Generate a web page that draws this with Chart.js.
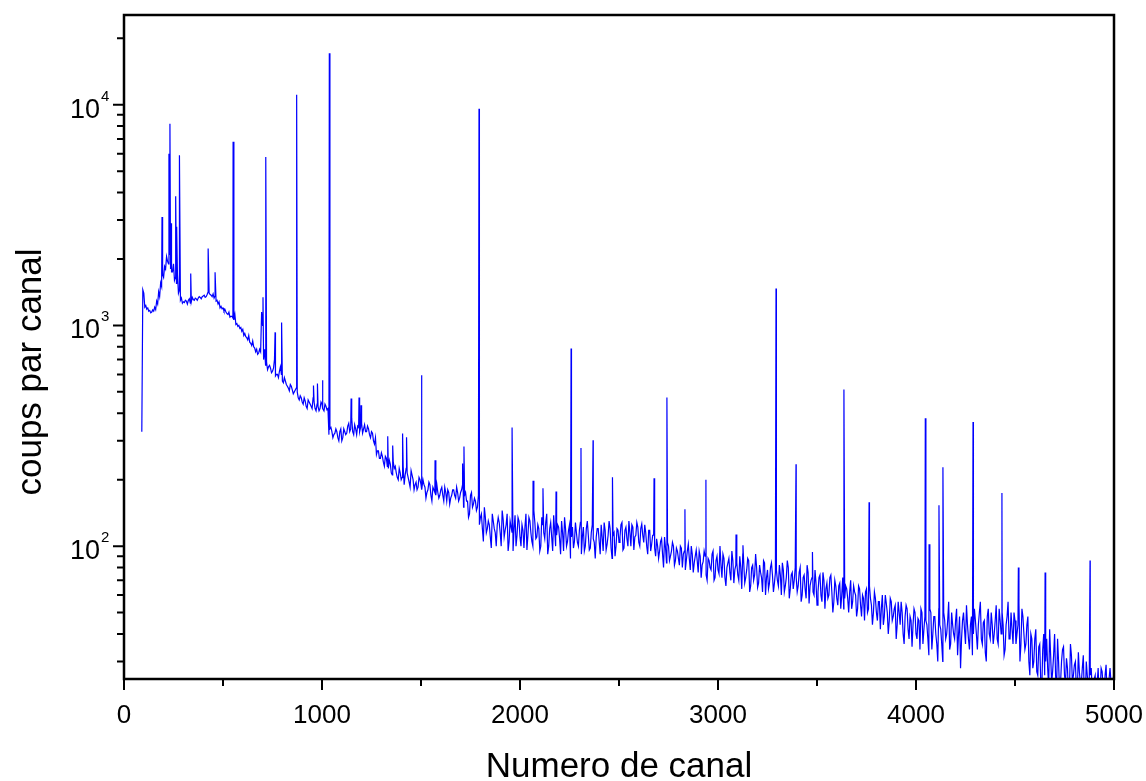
<!DOCTYPE html>
<html>
<head>
<meta charset="utf-8">
<script src="https://cdn.jsdelivr.net/npm/chart.js@4/dist/chart.umd.min.js"></script>
<style>
html,body{margin:0;padding:0;background:#fff;}
#wrap{width:1146px;height:781px;position:relative;}
</style>
</head>
<body>
<div id="wrap"><canvas id="c" width="1146" height="781"></canvas></div>
<script>
// ---- data ----
const baseStart = 90;   // continuum samples at channels 90,100,110,...
const baseStep = 10;
const baselineCounts = [
  330,
  1400,1230,1200,1170,1150,1160,1180,1250,1350,1500,
  1650,1800,1950,2100,1750,1900,1650,1700,1450,1330,
  1280,1300,1250,1320,1280,1310,1330,1300,1350,1320,
  1360,1340,1380,1400,1370,1390,1360,1300,1280,1220,
  1200,1180,1130,1150,1100,1080,1120,1020,1000,980,
  960,920,880,900,830,850,790,780,750,760,
  1000,780,680,650,640,620,700,600,580,650,
  560,580,540,520,540,510,500,520,470,480,
  450,470,430,460,440,420,450,410,430,420,
  440,410,430,420,340,330,320,340,310,330,
  300,340,320,350,330,380,320,340,350,330,
  360,340,330,350,320,330,300,310,270,250,
  265,240,255,230,245,215,240,230,205,225,
  200,230,210,215,195,220,200,190,180,205,
  190,200,185,175,195,170,185,175,190,165,
  180,170,185,160,175,165,180,170,185,160,
  175,190,170,160,135,170,150,165,145,170,
  135,120,150,115,130,110,140,120,100,135,
  115,145,110,125,95,130,115,120,100,135,
  110,125,98,140,112,130,105,145,108,125,
  95,135,115,128,92,120,110,138,100,125,
  108,130,95,120,105,125,110,98,128,104,
  118,92,122,100,130,96,115,108,88,120,
  105,125,95,118,102,130,98,112,90,120,
  104,125,96,118,108,130,100,122,110,128,
  104,120,112,125,100,118,95,112,98,108,
  88,105,92,110,84,100,90,104,82,98,
  88,100,80,95,86,102,78,92,84,96,
  76,90,82,95,74,88,80,92,70,86,
  78,100,72,88,66,84,76,95,68,82,
  74,90,64,84,72,88,62,80,70,92,
  65,82,72,86,60,78,68,84,62,76,
  70,82,60,78,66,86,58,74,64,80,
  62,76,56,72,64,82,55,70,62,78,
  54,72,60,76,52,68,60,74,50,70,
  58,66,52,72,58,64,50,70,56,62,
  48,66,54,60,46,64,52,58,44,62,
  50,56,42,60,48,55,40,58,46,52,
  38,56,44,50,36,54,42,48,35,52,
  40,47,34,50,42,46,38,52,34,48,
  40,30,44,36,50,38,46,34,50,40,
  46,32,48,38,50,36,44,34,48,40,
  46,34,50,38,45,33,48,40,50,36,
  46,38,52,40,44,34,48,38,50,36,
  46,40,55,36,48,34,44,30,40,28,
  38,27,35,24,34,26,38,23,32,27,
  40,22,30,24,34,26,31,21,36,24,
  29,22,33,24,28,21,30,23,26,22,
  25,20,28,22,27,21,29,23,28,22,
  27
];
const midStart = 95;    // in-between samples at channels 95,105,115,...
const midStep = 10;
const midCounts = [
  1450,1210,1185,1160,1140,1175,1210,1290,1420,1560,
  1700,1850,2050,1900,1800,1750,1600,1550,1400,1300,
  1260,1270,1290,1300,1260,1340,1300,1320,1330,1340,
  1350,1370,1350,1420,1380,1350,1330,1290,1250,1200,
  1190,1160,1150,1120,1090,1100,1060,1010,990,970,
  940,900,890,860,840,810,800,760,740,780,
  1150,700,660,630,660,610,640,590,600,620,
  600,550,560,530,505,530,490,510,500,460,
  470,440,455,420,450,430,470,420,440,410,
  450,420,440,415,320,345,310,325,330,300,
  340,310,330,325,360,340,330,355,320,345,
  345,325,355,330,340,310,325,290,260,270,
  250,255,230,250,225,235,210,225,215,200,
  215,205,190,225,205,185,210,180,195,185,
  200,180,190,165,180,190,160,180,170,175,
  170,185,160,175,180,155,170,180,165,175,
  165,180,150,175,160,140,175,155,160,150,
  125,140,105,135,120,125,98,130,115,125,
  128,100,132,118,140,105,122,95,138,112,
  130,100,118,122,96,135,115,100,128,110,
  120,100,125,108,140,100,128,95,118,112,
  122,92,115,135,100,118,88,122,105,115,
  100,128,110,95,120,112,98,125,104,110,
  120,92,110,128,96,112,120,88,115,100,
  118,110,128,98,122,100,115,125,96,112,
  122,100,126,104,115,92,118,102,112,90,
  100,95,108,80,98,104,86,95,100,86,
  95,82,98,92,78,95,88,100,76,90,
  86,95,72,85,90,70,86,78,95,72,
  90,75,82,92,72,80,88,70,86,78,
  84,70,80,92,68,78,86,66,82,74,
  80,68,76,62,84,72,64,80,74,68,
  78,66,74,84,62,72,80,64,76,70,
  72,66,80,60,74,58,76,66,72,60,
  68,62,74,56,70,64,58,72,62,56,
  66,54,68,60,52,66,58,62,52,66,
  60,52,64,48,58,62,50,66,54,50,
  58,46,56,52,44,60,50,46,56,48,
  54,44,50,56,40,48,52,38,46,44,
  50,38,46,52,36,48,44,32,50,40,
  48,36,52,42,30,46,40,56,36,44,
  38,52,40,28,46,42,54,38,44,32,
  52,40,44,56,36,46,30,52,38,44,
  40,54,36,46,50,32,44,56,38,42,
  50,36,44,30,52,40,36,48,26,38,
  30,42,26,36,22,40,30,28,42,24,
  32,26,38,22,30,35,24,28,22,32,
  26,30,22,27,24,32,20,26,24,28,
  22,26,24,20,28,23,26,21,25,24
];
const peakChannels = [192,227,232,238,261,266,280,337,425,460,551,702,716,763,796,872,957,977,1002,1037,
  1147,1187,1197,1332,1357,1407,1427,1502,1571,1710,1717,1793,1960,2066,2116,2182,2258,2308,2369,2467,
  2677,2742,2833,2939,3091,3126,3293,3394,3477,3636,3763,4047,4066,4116,4136,4288,4434,4517,4652,4879];
const peakCounts = [3100,6000,8200,2900,3850,2800,5900,1720,2230,1740,6800,1340,5800,930,1030,11100,534,545,565,17100,
  467,472,435,315,286,324,311,594,245,237,283,9600,345,198,183,177,787,278,302,205,
  203,472,147,200,113,101,1470,235,94,513,158,380,102,153,228,365,174,80,76,86];

const xMajorTicks = [0,1000,2000,3000,4000,5000];
const xTickLabels = ['0','1000','2000','3000','4000','5000'];
const xMinorTicks = [500,1500,2500,3500,4500];
const yMajorTicks = [100,1000,10000];
const yTickBase = ['10','10','10'];
const yTickExp = ['2','3','4'];
const yMinorTicks = [30,40,50,60,70,80,90,200,300,400,500,600,700,800,900,2000,3000,4000,5000,6000,7000,8000,9000,20000];
const xTitle = 'Numero de canal';
const yTitle = 'coups par canal';

// ---- build points ----
const pts = [];
baselineCounts.forEach((v,i)=>pts.push({x: baseStart + i*baseStep, y: v}));
midCounts.forEach((v,i)=>pts.push({x: midStart + i*midStep, y: v}));
peakChannels.forEach((c,i)=>pts.push({x: c, y: peakCounts[i]}));
pts.sort((a,b)=>a.x-b.x);

const FONT = '"Liberation Sans", Arial, sans-serif';

const axesPlugin = {
  id: 'axesPlugin',
  afterDraw(chart){
    const ctx = chart.ctx, a = chart.chartArea;
    const xs = chart.scales.x, ys = chart.scales.y;
    ctx.save();
    ctx.strokeStyle = '#000';
    ctx.fillStyle = '#000';
    ctx.lineWidth = 2.5;
    ctx.strokeRect(a.left, a.top, a.right - a.left, a.bottom - a.top);
    ctx.lineWidth = 2;
    ctx.beginPath();
    xMajorTicks.forEach(v=>{const p = xs.getPixelForValue(v); ctx.moveTo(p, a.bottom); ctx.lineTo(p, a.bottom + 11);});
    xMinorTicks.forEach(v=>{const p = xs.getPixelForValue(v); ctx.moveTo(p, a.bottom); ctx.lineTo(p, a.bottom + 7);});
    yMajorTicks.forEach(v=>{const p = ys.getPixelForValue(v); ctx.moveTo(a.left, p); ctx.lineTo(a.left - 11, p);});
    yMinorTicks.forEach(v=>{const p = ys.getPixelForValue(v); ctx.moveTo(a.left, p); ctx.lineTo(a.left - 7, p);});
    ctx.stroke();
    ctx.font = '26px ' + FONT;
    ctx.textAlign = 'center';
    ctx.textBaseline = 'alphabetic';
    xMajorTicks.forEach((v,i)=>{ctx.fillText(xTickLabels[i], xs.getPixelForValue(v), a.bottom + 44);});
    yMajorTicks.forEach((v,i)=>{
      const p = ys.getPixelForValue(v);
      ctx.font = '27px ' + FONT;
      ctx.textAlign = 'right';
      ctx.fillText(yTickBase[i], a.left - 24, p + 13);
      ctx.font = '15px ' + FONT;
      ctx.textAlign = 'left';
      ctx.fillText(yTickExp[i], a.left - 23, p - 4);
    });
    ctx.font = '35px ' + FONT;
    ctx.textAlign = 'center';
    ctx.fillText(xTitle, (a.left + a.right) / 2, 777);
    ctx.save();
    ctx.translate(41, 372);
    ctx.rotate(-Math.PI / 2);
    ctx.fillText(yTitle, 0, 0);
    ctx.restore();
    ctx.restore();
  }
};

new Chart(document.getElementById('c'), {
  type: 'line',
  data: {
    datasets: [{
      data: pts,
      borderColor: '#0000ff',
      borderWidth: 1.2,
      pointRadius: 0,
      tension: 0,
      fill: false,
      clip: 0
    }]
  },
  options: {
    responsive: false,
    animation: false,
    events: [],
    layout: {padding: {left: 124, right: 32, top: 15, bottom: 102}},
    plugins: {legend: {display: false}, tooltip: {enabled: false}},
    scales: {
      x: {type: 'linear', min: 0, max: 5000, display: false},
      y: {type: 'logarithmic', min: 25, max: 25500, display: false}
    }
  },
  plugins: [axesPlugin]
});
</script>
</body>
</html>
